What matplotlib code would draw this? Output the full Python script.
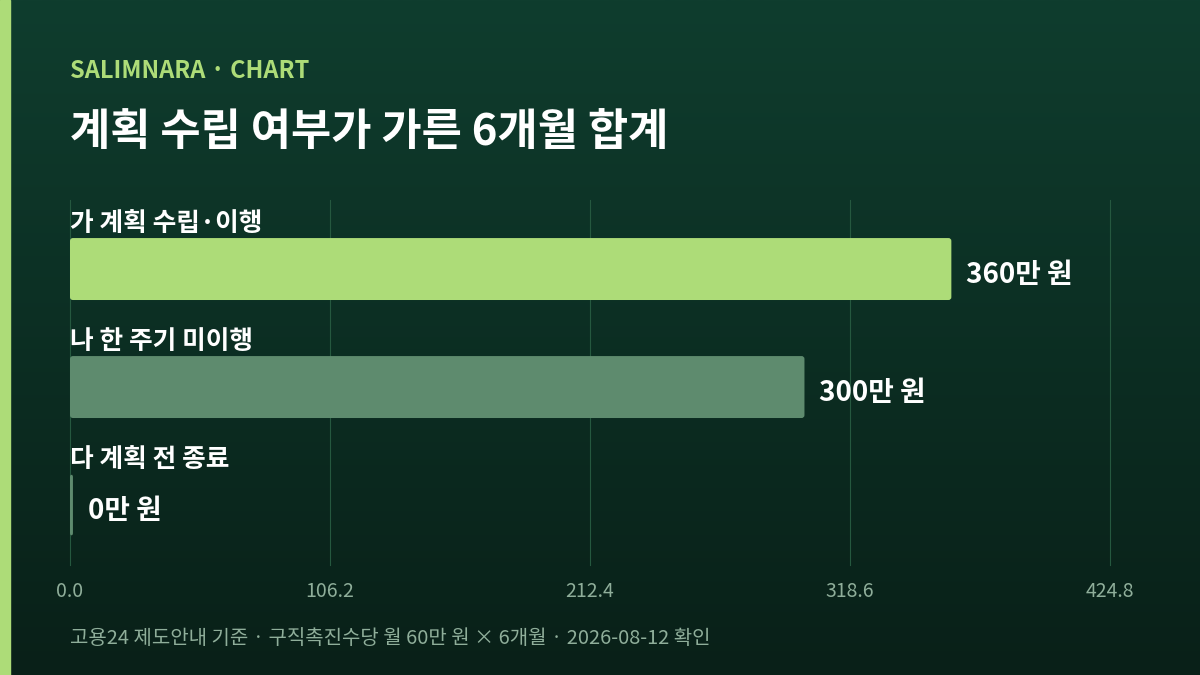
import numpy as np
import matplotlib.pyplot as plt
from matplotlib.patches import FancyBboxPatch

plt.rcParams['font.family'] = ['Noto Sans CJK KR', 'DejaVu Sans']

categories = ["가 계획 수립·이행", "나 한 주기 미이행", "다 계획 전 종료"]
values = [360, 300, 0]
value_labels = ["360만 원", "300만 원", "0만 원"]
ticks = [0.0, 106.2, 212.4, 318.6, 424.8]
bar_colors = ["#addc78", "#5e8b6e", "#5e8b6e"]

fig = plt.figure(figsize=(12, 6.75), dpi=100)

# background gradient
bg = fig.add_axes([0, 0, 1, 1])
grad = np.linspace(0, 1, 256).reshape(-1, 1)
top = np.array([0x0f, 0x3d, 0x2e]) / 255
bot = np.array([0x09, 0x20, 0x18]) / 255
img = top[None, None, :] * (1 - grad[:, :, None]) + bot[None, None, :] * grad[:, :, None]
bg.imshow(img, aspect='auto', extent=[0, 1, 0, 1])
bg.add_patch(plt.Rectangle((0, 0), 10 / 1200, 1, color="#addc78"))
bg.set_xlim(0, 1); bg.set_ylim(0, 1); bg.axis('off')

ax = fig.add_axes([70 / 1200, 1 - 565 / 675, 1040 / 1200, 365 / 675])
ax.set_facecolor('none')
ax.set_xlim(0, ticks[-1])
ax.set_ylim(2.508, -0.585)
for t in ticks:
    ax.axvline(t, color="#25583f", lw=0.8, zorder=0, clip_on=False)
    ax.text(t, 2.73, f"{t:.1f}", ha='center', va='center', color="#8fae9a", fontsize=14)

h = 0.525
for i, (c, v, lab, col) in enumerate(zip(categories, values, value_labels, bar_colors)):
    w = max(v, 1.2)
    ax.add_patch(FancyBboxPatch((0, i - h / 2), w, h, boxstyle="round,pad=0,rounding_size=1.2",
                                mutation_aspect=0.02, fc=col, ec='none', zorder=2))
    ax.text(0, i - h / 2 - 0.12, c, ha='left', va='center', color='white', fontsize=18.5, fontweight='bold')
    ax.text(w + 6, i + 0.05, lab, ha='left', va='center', color='white', fontsize=20, fontweight='bold')
ax.axis('off')

fig.text(70 / 1200, 1 - 71 / 675, "SALIMNARA · CHART", color="#addc78", fontsize=17, fontweight='bold', va='center')
fig.text(70 / 1200, 1 - 132 / 675, "계획 수립 여부가 가른 6개월 합계", color="white", fontsize=31.5, fontweight='bold', va='center')
fig.text(70 / 1200, 1 - 638 / 675, "고용24 제도안내 기준 · 구직촉진수당 월 60만 원 × 6개월 · 2026-08-12 확인",
         color="#8fae9a", fontsize=14.4, va='center')

fig.savefig("out.png", dpi=100)
